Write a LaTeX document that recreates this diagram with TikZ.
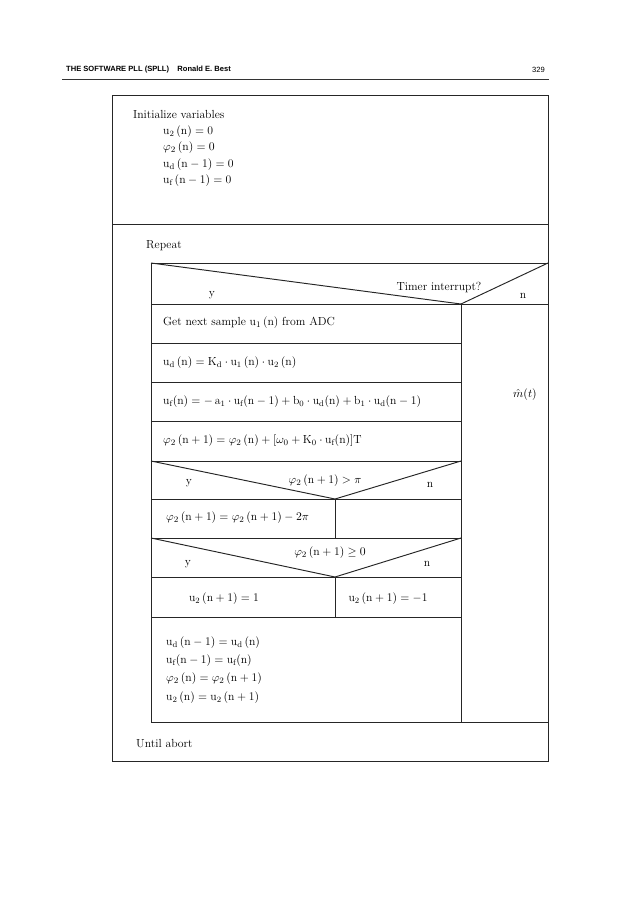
\documentclass[tikz,border=0pt]{standalone}
\usepackage{fontspec}
\newfontfamily\headfont{Liberation Sans}
\begin{document}
\begin{tikzpicture}[
    x=0.033cm, y=-0.033cm,
    font=\fontsize{11}{13}\selectfont,
    %% Ramy štruktogramu
    box/.style={draw=black!85, line width=0.9pt},
    %% Text zarovnaný vľavo
    txt/.style={anchor=west, inner sep=0pt},
    %% Text v strede
    ctr/.style={inner sep=0pt},
    %% Hlavička strany
    hdr/.style={font=\headfont\fontsize{7.1}{9}\selectfont, inner sep=0pt}
]
\useasboundingbox (0,0) rectangle (636,900);

%% ══════════════════════════════════════════════════════════════════
%% Hlavička strany
%% ══════════════════════════════════════════════════════════════════
\node[hdr, anchor=west, font=\headfont\bfseries\fontsize{7.1}{9}\selectfont] (title) at (66,70)
    {THE SOFTWARE PLL (SPLL)\hspace{1.1em}Ronald E. Best};
\node[hdr, anchor=east] (page) at (545,70) {329};
\coordinate (rule-l) at (62,79);
\coordinate (rule-r) at (549,79);
\draw[line width=0.9pt, black!80] (rule-l) -- (rule-r);

%% ══════════════════════════════════════════════════════════════════
%% Rámy
%% ══════════════════════════════════════════════════════════════════
%% Vonkajší rám
\coordinate (o-nw) at (112,95);
\coordinate (o-se) at (548,761);
\coordinate (sep-l) at (112,224);
\coordinate (sep-r) at (548,224);
\draw[box] (o-nw) rectangle (o-se);
\draw[box] (sep-l) -- (sep-r);

%% Telo cyklu Repeat
\coordinate (i-nw) at (151,263);
\coordinate (i-se) at (548,722);
\draw[box] (i-nw) rectangle (i-se);

%% Rozhodnutie Timer interrupt?
\coordinate (t-v) at (461,304);
\coordinate (t-r) at (548,263);
\draw[box] (i-nw) -- (t-v) -- (t-r);
\coordinate (t-bl) at (151,304);
\coordinate (t-br) at (548,304);
\draw[box] (t-bl) -- (t-br);

%% Stĺpec vetvy n
\coordinate (col-b) at (461,722);
\draw[box] (t-v) -- (col-b);

%% Riadky ľavého stĺpca
\foreach \y in {343, 382, 421, 461, 499, 538, 577, 617} {
    \draw[box] (151,\y) -- (461,\y);
}

%% Rozhodnutia vnútri vetvy y
\coordinate (p-v) at (335,499);
\coordinate (s-v) at (335,577);
\draw[box] (151,461) -- (p-v) -- (461,461);
\draw[box] (151,538) -- (s-v) -- (461,538);

%% Delenie riadkov pod rozhodnutiami
\draw[box] (p-v) -- (335,538);
\draw[box] (s-v) -- (335,617);

%% ══════════════════════════════════════════════════════════════════
%% Texty
%% ══════════════════════════════════════════════════════════════════
\node[txt] (init) at (133,114) {Initialize variables};
\foreach \n/\y/\eq in {
    i1/132/{$\mathrm{u_2\,(n) = 0}$},
    i2/148/{$\varphi_2\,(\mathrm{n}) = 0$},
    i3/165/{$\mathrm{u_d\,(n - 1) = 0}$},
    i4/181/{$\mathrm{u_f\,(n - 1) = 0}$}} {
    \node[txt] (\n) at (163,\y) {\eq};
}

\node[txt] (repeat) at (146,246) {Repeat};

%% Timer interrupt?
\node[ctr] (timer) at (439,288) {Timer interrupt?};
\node[ctr] (timer-y) at (212,295) {y};
\node[ctr] (timer-n) at (523,296) {n};

%% Kroky výpočtu
\node[txt] (sample) at (163,323) {Get next sample u$_1$\,(n) from ADC};
\node[txt] (ud) at (163,363)
    {$\mathrm{u_d\,(n) = K_d \cdot u_1\,(n) \cdot u_2\,(n)}$};
\node[txt] (uf) at (163,402)
    {$\mathrm{u_f(n) = -\,a_1 \cdot u_f(n - 1) + b_0 \cdot u_d(n) + b_1 \cdot u_d(n - 1)}$};
\node[txt] (phi) at (163,441)
    {$\varphi_2\,(\mathrm{n + 1}) = \varphi_2\,(\mathrm{n}) + [\omega_0 + \mathrm{K_0 \cdot u_f(n)}]\mathrm{T}$};

%% Rozhodnutie phi > pi
\node[ctr] (wrap) at (325,481) {$\varphi_2\,(\mathrm{n + 1}) > \pi$};
\node[ctr] (wrap-y) at (189,483) {y};
\node[ctr] (wrap-n) at (430,485) {n};
\node[txt] (wrap-do) at (166,518)
    {$\varphi_2\,(\mathrm{n + 1}) = \varphi_2\,(\mathrm{n + 1}) - 2\pi$};

%% Rozhodnutie phi >= 0
\node[ctr] (sign) at (330,553) {$\varphi_2\,(\mathrm{n + 1}) \geq 0$};
\node[ctr] (sign-y) at (188,564) {y};
\node[ctr] (sign-n) at (427,564) {n};
\node[ctr] (sign-p) at (224,599) {$\mathrm{u_2\,(n + 1) = 1}$};
\node[ctr] (sign-m) at (388,599) {$\mathrm{u_2\,(n + 1) = -1}$};

%% Posun hodnôt
\foreach \n/\y/\eq in {
    s1/643/{$\mathrm{u_d\,(n - 1) = u_d\,(n)}$},
    s2/661/{$\mathrm{u_f(n - 1) = u_f(n)}$},
    s3/679/{$\varphi_2\,(\mathrm{n}) = \varphi_2\,(\mathrm{n + 1})$},
    s4/698/{$\mathrm{u_2\,(n) = u_2\,(n + 1)}$}} {
    \node[txt] (\n) at (166,\y) {\eq};
}

%% Vetva n
\node[ctr] (mhat) at (525,395) {$\hat{m}(t)$};

\node[txt] (until) at (136,744) {Until abort};

\end{tikzpicture}
\end{document}
